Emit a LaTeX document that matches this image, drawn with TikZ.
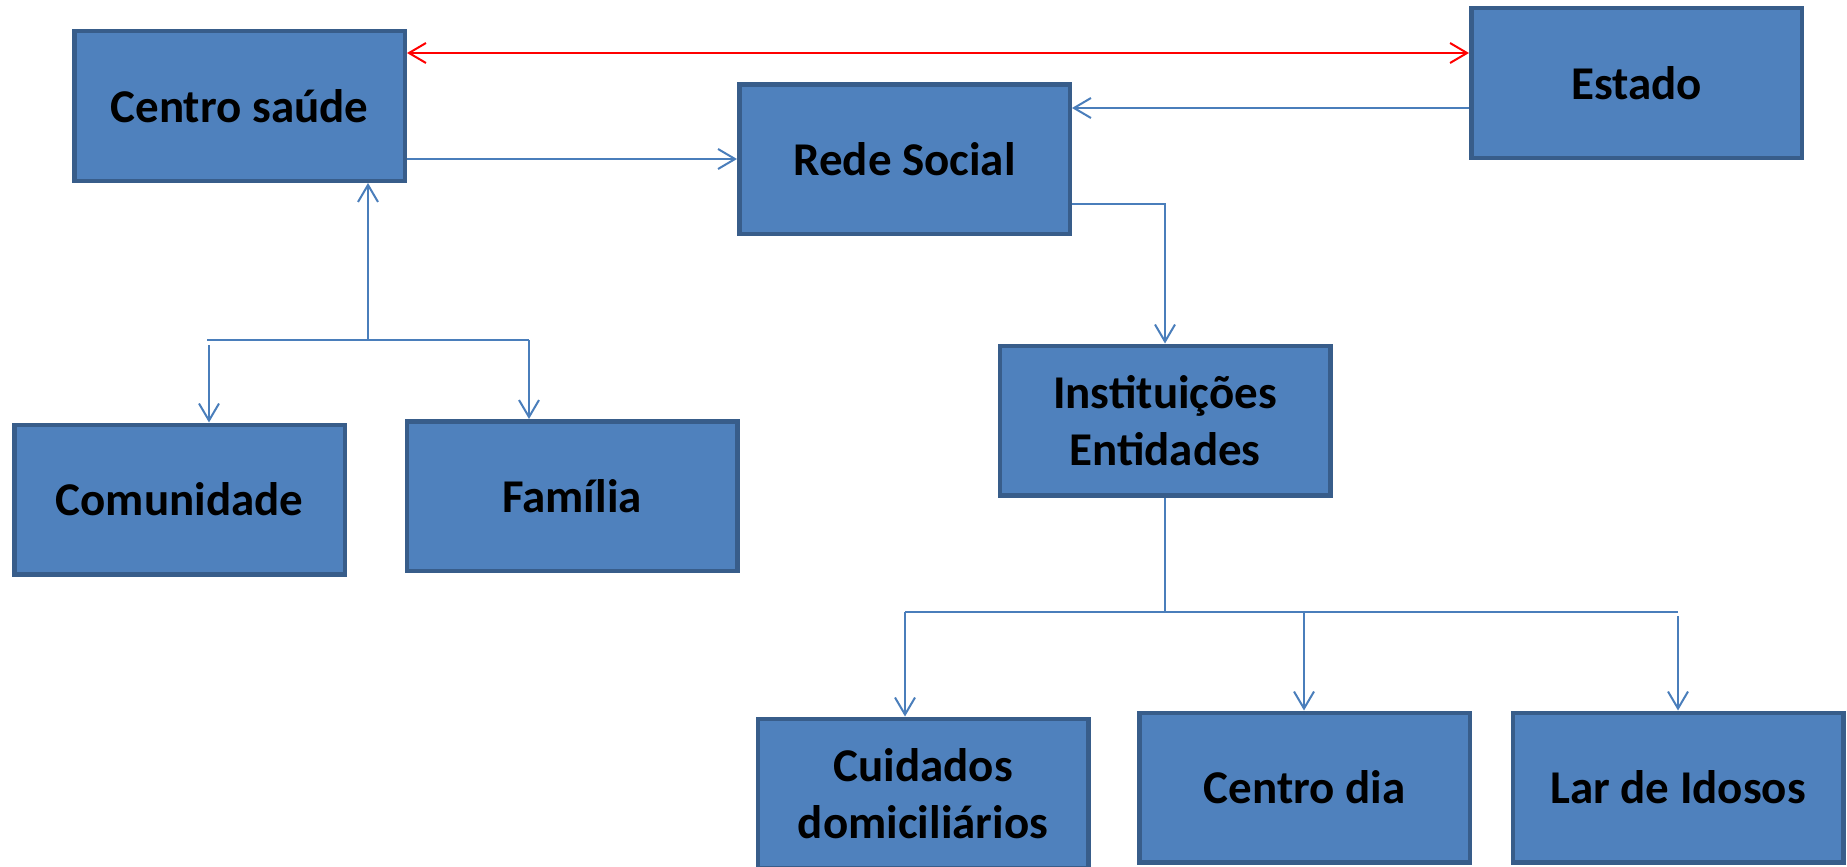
\documentclass[tikz,border=0pt]{standalone}
\usepackage{fontspec}
\setmainfont{Carlito}
\usetikzlibrary{arrows.meta}
\definecolor{boxfill}{HTML}{4F81BD}
\definecolor{boxline}{HTML}{385D8A}
\definecolor{conn}{HTML}{4A7EBB}
\definecolor{redline}{HTML}{FF0000}
\begin{document}
\begin{tikzpicture}[x=1pt,y=-1pt,
  box/.style={draw=boxline, fill=boxfill, line width=4.5pt, minimum width=330.5pt, minimum height=149.5pt,
    inner sep=0pt, align=center, text=black, font=\fontsize{47}{57}\selectfont\bfseries},
  link/.style={draw=conn, line width=2pt},
  arr/.style={link, -{Straight Barb[length=17pt,width=20pt]}},
  redarr/.style={draw=redline, line width=2pt, {Straight Barb[length=17pt,width=20pt]}-{Straight Barb[length=17pt,width=20pt]}}]
\useasboundingbox (0,0) rectangle (1847,867);
\clip (0,0) rectangle (1847,867);
% boxes
\node[box] (cs) at (239.5,106) {Centro saúde};
\node[box] (rede) at (904.5,159) {Rede Social};
\node[box] (estado) at (1636.5,83) {Estado};
\node[box] (com) at (179.5,499.5) {Comunidade};
\node[box] (fam) at (572,496) {Família};
\node[box] (inst) at (1165,420.5) {Instituições\\Entidades};
\node[box] (cuid) at (923,793.5) {Cuidados\\domiciliários};
\node[box] (cdia) at (1304.5,787.5) {Centro dia};
\node[box] (lar) at (1678,787.5) {Lar de Idosos};
% coordinates
\coordinate (r1) at ([yshift=53pt]cs.east);
\coordinate (e1) at ([yshift=-25pt]estado.west);
\coordinate (rs) at ([yshift=-45pt]rede.east);
\coordinate (j1) at (368,340);
\coordinate (b1) at (207,340);
\coordinate (b2) at (529,340);
\coordinate (d1) at (209,345);
\coordinate (c1) at (905,612);
\coordinate (c2) at (1678,612);
\coordinate (c3) at (1304,612);
\coordinate (c4) at (1678,616);
% connectors
\draw[redarr] (r1) -- (r1 -| estado.west);
\draw[arr] (rede.west -| cs.east) -- (rede.west);
\draw[arr] (e1) -- (e1 -| rede.east);
\draw[arr] (rs) -| (inst.north);
\draw[arr] (j1) -- (j1 |- cs.south);
\draw[link] (b1) -- (b2);
\draw[arr] (d1) -- (d1 |- com.north);
\draw[arr] (b2) -- (b2 |- fam.north);
\draw[link] (inst.south) -- (inst.south |- c1);
\draw[link] (c1) -- (c2);
\draw[arr] (c1) -- (c1 |- cuid.north);
\draw[arr] (c3) -- (c3 |- cdia.north);
\draw[arr] (c4) -- (c4 |- lar.north);
\end{tikzpicture}
\end{document}
